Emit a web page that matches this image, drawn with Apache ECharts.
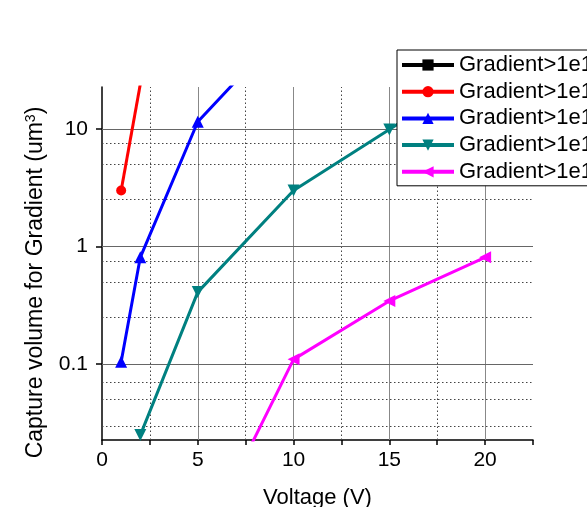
<!DOCTYPE html>
<html>
<head>
<meta charset="utf-8">
<script src="https://cdn.jsdelivr.net/npm/echarts@6/dist/echarts.min.js"></script>
<style>html,body{margin:0;padding:0;background:#fff;}#c{width:587px;height:507px;}</style>
</head>
<body>
<div id="c"></div>
<script>
// ---- data ----
var seriesNames = ['Gradient>1e10', 'Gradient>1e11', 'Gradient>1e12', 'Gradient>1e13', 'Gradient>1e14'];
var blackX = [];
var blackY = [];
var redX = [1, 2];
var redY = [3.0, 24];
var blueX = [1, 2, 5, 10];
var blueY = [0.105, 0.81, 11.5, 85];
var tealX = [2, 5, 10, 15, 20];
var tealY = [0.025, 0.41, 3.0, 9.9, 33];
var magentaX = [5, 10, 15, 20];
var magentaY = [0.0025, 0.11, 0.345, 0.81];
var xMajorGrid = [5, 10, 15, 20];
var xMinorGrid = [2.5, 7.5, 12.5, 17.5];
var yMajorGrid = [0.1, 1, 10];
var yMinorGrid = [0.025, 0.05, 0.075, 0.25, 0.5, 0.75, 2.5, 5, 7.5];

function pairs(xs, ys) { return xs.map(function (x, i) { return [x, ys[i]]; }); }

var FONT = 'Liberation Sans, Arial, sans-serif';
var chart = echarts.init(document.getElementById('c'), null, {renderer: 'canvas'});

function dataSeries(name, xs, ys, color, symbol, size, rot) {
  return {
    name: name, type: 'line', data: pairs(xs, ys),
    symbol: symbol, symbolSize: size, symbolRotate: rot || 0,
    lineStyle: {color: color, width: 3},
    itemStyle: {color: color},
    clip: true, z: 3, animation: false
  };
}

var gridLines = [];
xMajorGrid.forEach(function (v) { gridLines.push({xAxis: v, lineStyle: {type: 'solid', color: '#888', width: 1}}); });
xMinorGrid.forEach(function (v) { gridLines.push({xAxis: v, lineStyle: {type: [1.5, 2.5], color: '#444', width: 1}}); });
yMajorGrid.forEach(function (v) { gridLines.push({yAxis: v, lineStyle: {type: 'solid', color: '#666', width: 1}}); });
yMinorGrid.forEach(function (v) { gridLines.push({yAxis: v, lineStyle: {type: [1.5, 2.5], color: '#444', width: 1}}); });

var option = {
  backgroundColor: '#fff',
  animation: false,
  textStyle: {fontFamily: FONT},
  grid: {left: 102, top: 87, width: 431, height: 353, containLabel: false, outerBoundsMode: 'none'},
  legend: {
    data: seriesNames,
    left: 397, top: 50,
    orient: 'vertical',
    backgroundColor: '#fff',
    borderColor: '#000', borderWidth: 1,
    padding: [4, 10, 3, 3],
    itemWidth: 52, itemHeight: 14, itemGap: 4.7,
    lineStyle: {width: 4},
    textStyle: {fontSize: 22, fontFamily: FONT, color: '#000', lineHeight: 22},
    selectedMode: false
  },
  xAxis: {
    type: 'value', min: 0, max: 22.5, interval: 2.5,
    name: 'Voltage (V)', nameLocation: 'middle', nameGap: 47,
    nameTextStyle: {fontSize: 22, fontFamily: FONT, color: '#000'},
    axisLine: {show: true, onZero: false, lineStyle: {color: '#000', width: 1.5}},
    axisTick: {show: true, inside: false, length: 5, lineStyle: {color: '#000', width: 1.5}},
    axisLabel: {fontSize: 21, fontFamily: FONT, color: '#000', margin: 10,
      formatter: function (v) { return (Math.abs(v % 5) < 1e-9) ? String(v) : ''; }},
    splitLine: {show: false}
  },
  yAxis: {
    type: 'log', logBase: 10, min: 0.0227, max: 22.7,
    name: 'Capture volume for Gradient (um{sup|3})', nameLocation: 'middle', nameGap: 55,
    nameTextStyle: {fontSize: 23, fontFamily: FONT, color: '#000', padding: [0, 38, 0, 0],
      rich: {sup: {fontSize: 14, fontFamily: FONT, color: '#000', verticalAlign: 'top', lineHeight: 23}}},
    axisLine: {show: true, lineStyle: {color: '#000', width: 1.5}},
    axisTick: {show: true, inside: false, length: 6, lineStyle: {color: '#000', width: 1.5}},
    axisLabel: {fontSize: 21, fontFamily: FONT, color: '#000', margin: 14, showMinLabel: false, showMaxLabel: false,
      formatter: function (v) {
        var l = Math.log10(v);
        if (Math.abs(l - Math.round(l)) > 1e-6) return '';
        return String(Number(Math.pow(10, Math.round(l)).toPrecision(6)));
      }},
    splitLine: {show: false}
  },
  series: [
    {
      name: 'grid', type: 'line', data: [], silent: true, z: 1,
      markLine: {silent: true, symbol: 'none', z: 1, label: {show: false}, animation: false, data: gridLines}
    },
    dataSeries(seriesNames[0], blackX, blackY, '#000000', 'rect', 9),
    dataSeries(seriesNames[1], redX, redY, '#ff0000', 'circle', 10),
    dataSeries(seriesNames[2], blueX, blueY, '#0000ff', 'triangle', 12),
    dataSeries(seriesNames[3], tealX, tealY, '#008080', 'triangle', 12, 180),
    dataSeries(seriesNames[4], magentaX, magentaY, '#ff00ff', 'triangle', 12, 90)
  ]
};
chart.setOption(option);
</script>
</body>
</html>
